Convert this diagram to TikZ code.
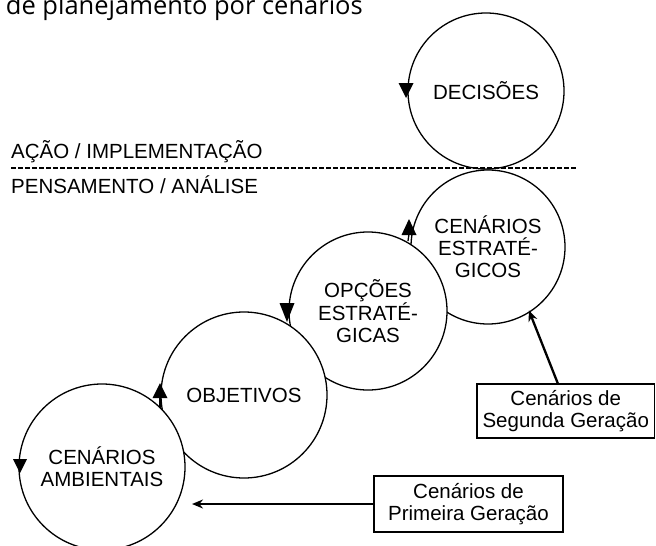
\documentclass[tikz,border=0pt]{standalone}
\usepackage{fontspec}
\setmainfont{Liberation Sans}
\newfontfamily\titlefont{Open Sans}
\usetikzlibrary{arrows.meta}
\begin{document}
\begin{tikzpicture}[x=1pt,y=-1pt,
  circ/.style={circle,draw,line width=1.3pt,fill=white,inner sep=0pt,align=center,font=\fontsize{20.5}{22}\selectfont},
  gbox/.style={rectangle,draw,line width=1.5pt,fill=white,inner sep=0pt,align=center,font=\fontsize{20.5}{21.5}\selectfont},
  lbl/.style={inner sep=0pt,font=\fontsize{20.5}{22}\selectfont},
  mk/.style={fill=black},
  stem/.style={line width=1.3pt},
  conn/.style={line width=2.3pt,-{Stealth[length=11pt,width=9pt]}}]
\useasboundingbox (0,0) rectangle (656,546);
% title (cut at top)
\node[anchor=base east,inner sep=0pt,font=\titlefont\fontsize{25.5}{28}\selectfont] (title) at (363,14) {o de planejamento por cenários};
% circles, lower ones on top
\node[circ,minimum size=156pt] (dec) at (486,91) {DECISÕES};
\node[circ,minimum size=154pt] (ce) at (488,247) {CENÁRIOS\\ESTRATÉ-\\GICOS};
\node[circ,minimum size=158pt] (op) at (368,311) {OPÇÕES\\ESTRATÉ-\\GICAS};
\node[circ,minimum size=166pt] (obj) at (244,395) {OBJETIVOS};
\node[circ,minimum size=166pt] (amb) at (102,467) {CENÁRIOS\\AMBIENTAIS};
% flow markers
\fill[mk] (406,98) -- (398.5,83) -- (413.5,83) -- cycle;
\fill[mk] (409,219) -- (401.5,235) -- (416.5,235) -- cycle;
\draw[stem] (409,234) -- (408,241);
\fill[mk] (287,322) -- (279.5,303) -- (294.5,303) -- cycle;
\fill[mk] (160,383) -- (152.5,398) -- (167.5,398) -- cycle;
\draw[stem] (160,397) -- (160,408);
\fill[mk] (20,473) -- (13,459) -- (27,459) -- cycle;
% dashed divider
\coordinate (dl) at (11,168);
\coordinate (dr) at (577,168);
\draw[line width=1.4pt,dash pattern=on 4.5pt off 2.5pt] (dl) -- (dr);
\node[lbl,anchor=base west] (acao) at (11,158) {AÇÃO / IMPLEMENTAÇÃO};
\node[lbl,anchor=base west] (pens) at (11,193) {PENSAMENTO / ANÁLISE};
% boxes
\node[gbox,minimum width=177.5pt,minimum height=54pt] (seg) at (565.75,411) {Cenários de\\Segunda Geração};
\node[gbox,minimum width=189pt,minimum height=56pt] (pri) at (468.5,504) {Cenários de\\Primeira Geração};
\coordinate (pg) at (192,504);
\draw[conn] ([xshift=-8pt]seg.north) -- ([shift={(2pt,4pt)}]ce.-60.6);
\draw[conn] (pri.west) -- (pg);
\end{tikzpicture}
\end{document}
